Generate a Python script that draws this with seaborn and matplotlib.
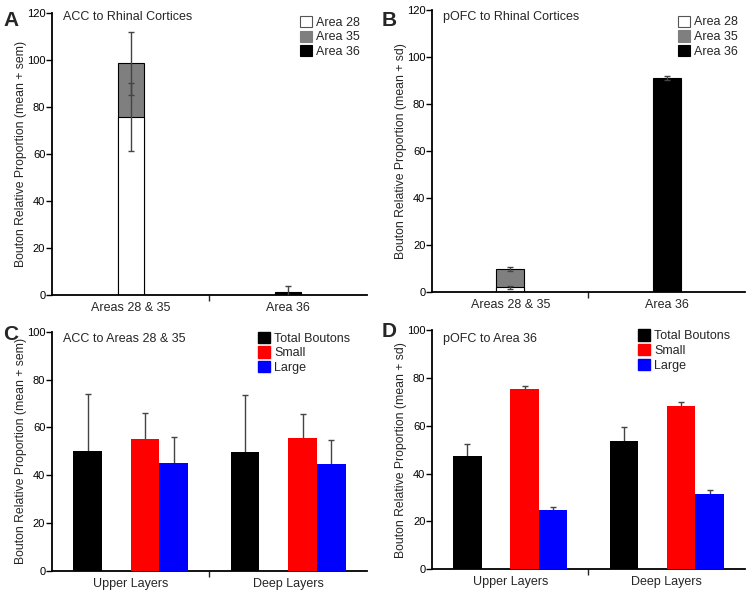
import numpy as np
import pandas as pd
import matplotlib
matplotlib.use("Agg")
import matplotlib.pyplot as plt
from matplotlib.patches import Patch
import seaborn as sns

sns.set_theme(style="ticks")
plt.rcParams['font.family'] = ['Liberation Sans', 'DejaVu Sans']

# ---------------- data ----------------
region_cats = ["Areas 28 & 35", "Area 36"]
acc_area28 = [75.8, np.nan]
acc_area35 = [22.8, np.nan]
acc_area36 = [np.nan, 1.4]
acc_area28_sem = [14.5, np.nan]
acc_area35_sem = [13.5, np.nan]
acc_area36_sem = [np.nan, 2.4]

pofc_area28 = [2.0, np.nan]
pofc_area35 = [7.9, np.nan]
pofc_area36 = [np.nan, 91.2]
pofc_area28_sd = [0.6, np.nan]
pofc_area35_sd = [0.8, np.nan]
pofc_area36_sd = [np.nan, 0.8]

area_labels = ["Area 28", "Area 35", "Area 36"]

layer_cats = ["Upper Layers", "Deep Layers"]
size_groups = ["Total Boutons", "Small", "Large"]
acc_total = [50.2, 49.9]
acc_small = [55.1, 55.5]
acc_large = [45.1, 44.6]
acc_total_sem = [23.8, 23.7]
acc_small_sem = [11.0, 10.1]
acc_large_sem = [10.8, 10.2]

pofc_total = [47.2, 53.8]
pofc_small = [75.2, 68.4]
pofc_large = [24.9, 31.5]
pofc_total_sd = [5.3, 5.5]
pofc_small_sd = [1.4, 1.5]
pofc_large_sd = [1.0, 1.5]

# ---------------- style ----------------
GRAY = "#7f7f7f"
ERR = "#444444"
FS = 9
TICK_FS = 8
YLAB_FS = 8.8

fig = plt.figure(figsize=(7.5, 5.92), dpi=100)
axA = fig.add_axes([0.0693, 0.5017, 0.420, 0.4764])
axB = fig.add_axes([0.5760, 0.5068, 0.4173, 0.4764])
axC = fig.add_axes([0.0693, 0.0355, 0.420, 0.4042])
axD = fig.add_axes([0.5760, 0.0383, 0.4173, 0.4042])


def all_patches(ax):
    out = []
    for cont in ax.containers:
        for p in cont:
            out.append((p.get_x() + p.get_width() / 2, p.get_height(), p.get_facecolor()))
    return out


def style_axis(ax, ymax, ylabel, cats, label_x):
    sns.despine(ax=ax)
    for s in ["left", "bottom"]:
        ax.spines[s].set_linewidth(1.3)
        ax.spines[s].set_color("black")
    ax.set_ylim(0, ymax)
    ax.set_xlim(-0.5, 1.5)
    ax.set_yticks(np.arange(0, ymax + 1, 20))
    ax.tick_params(axis="y", direction="out", length=4, width=1,
                   labelsize=TICK_FS, pad=0.8, colors="black")
    ax.set_xticks([0.5])
    ax.set_xticklabels([""])
    ax.set_xticks([0, 1], minor=True)
    ax.set_xticklabels(cats, minor=True, fontsize=FS)
    ax.tick_params(axis="x", which="major", direction="out", length=4, width=1)
    ax.tick_params(axis="x", which="minor", length=0, pad=5)
    ax.set_xlabel("")
    ax.set_ylabel(ylabel, fontsize=YLAB_FS)
    ax.yaxis.set_label_coords(label_x, 0.5)
    ax.yaxis.label.set_verticalalignment("center")
    ax.set_facecolor("white")


def stacked_panel(ax, a28, a35, a36, e28, e35, e36, width, title, title_y, ylabel,
                  leg_anchor, label_x):
    cum35 = [x + y if not (np.isnan(x) or np.isnan(y)) else np.nan for x, y in zip(a28, a35)]
    sns.barplot(x=region_cats, y=cum35, order=region_cats, color=GRAY, saturation=1,
                edgecolor="black", linewidth=0.8, width=width, errorbar=None, ax=ax)
    sns.barplot(x=region_cats, y=a28, order=region_cats, color="white", saturation=1,
                edgecolor="black", linewidth=0.8, width=width, errorbar=None, ax=ax)
    sns.barplot(x=region_cats, y=a36, order=region_cats, color="black", saturation=1,
                edgecolor="black", linewidth=0.8, width=width, errorbar=None, ax=ax)
    bars = all_patches(ax)
    ekw = dict(fmt="none", ecolor=ERR, elinewidth=1.0, capsize=2.3, capthick=1.0, zorder=5)
    for vals, errs, tops in [(a28, e28, a28), (a35, e35, cum35), (a36, e36, a36)]:
        for v, e, t in zip(vals, errs, tops):
            if np.isnan(v):
                continue
            x = [b[0] for b in bars if np.isclose(b[1], t)][0]
            ax.errorbar([x], [t], yerr=[e], **ekw)
    style_axis(ax, 120, ylabel, region_cats, label_x)
    ax.text(0.035, title_y, title, transform=ax.transAxes,
            fontsize=FS, va="center", ha="left")
    handles = [Patch(facecolor="white", edgecolor="#555555", linewidth=0.8),
               Patch(facecolor=GRAY, edgecolor=GRAY, linewidth=0.8),
               Patch(facecolor="black", edgecolor="black", linewidth=0.8)]
    ax.legend(handles, area_labels, loc="upper left", bbox_to_anchor=leg_anchor,
              frameon=False, fontsize=FS, handlelength=1.0, handleheight=1.0,
              handletextpad=0.3, labelspacing=0.15, borderpad=0, borderaxespad=0)


def grouped_panel(ax, tot, sm, lg, etot, esm, elg, title, ylabel, leg_anchor, title_y, label_x):
    df = pd.DataFrame({
        "layer": layer_cats * 3,
        "group": np.repeat(size_groups, len(layer_cats)),
        "value": tot + sm + lg,
        "err": etot + esm + elg,
    })
    hue_order = ["Total Boutons", " ", "Small", "Large"]
    palette = {"Total Boutons": "black", " ": "white", "Small": "#ff0000", "Large": "#0000ff"}
    sns.barplot(df, x="layer", y="value", hue="group", hue_order=hue_order, order=layer_cats,
                palette=palette, saturation=1, width=0.73, errorbar=None, linewidth=0,
                legend=False, ax=ax, zorder=3)
    bars = all_patches(ax)
    for _, row in df.iterrows():
        x = [b[0] for b in bars if np.isclose(b[1], row["value"])][0]
        ax.errorbar([x], [row["value"]], yerr=[row["err"]],
                    fmt="none", ecolor=ERR, elinewidth=1.0, capsize=2.3, capthick=1.0, zorder=2)
    style_axis(ax, 100, ylabel, layer_cats, label_x)
    ax.text(0.035, title_y, title, transform=ax.transAxes, fontsize=FS, va="center", ha="left")
    handles = [Patch(facecolor=palette[g], edgecolor=palette[g]) for g in size_groups]
    ax.legend(handles, size_groups, loc="upper left", bbox_to_anchor=leg_anchor,
              frameon=False, fontsize=FS, handlelength=1.0, handleheight=1.0,
              handletextpad=0.3, labelspacing=0.15, borderpad=0, borderaxespad=0)


stacked_panel(axA, acc_area28, acc_area35, acc_area36, acc_area28_sem, acc_area35_sem,
              acc_area36_sem, 0.165, "ACC to Rhinal Cortices", 0.985,
              "Bouton Relative Proportion (mean + sem)", (0.787, 0.99), -0.097)
stacked_panel(axB, pofc_area28, pofc_area35, pofc_area36, pofc_area28_sd, pofc_area35_sd,
              pofc_area36_sd, 0.18, "pOFC to Rhinal Cortices", 0.975,
              "Bouton Relative Proportion (mean + sd)", (0.786, 0.98), -0.098)
grouped_panel(axC, acc_total, acc_small, acc_large, acc_total_sem, acc_small_sem, acc_large_sem,
              "ACC to Areas 28 & 35", "Bouton Relative Proportion (mean + sem)",
              (0.654, 1.0), 0.971, -0.097)
grouped_panel(axD, pofc_total, pofc_small, pofc_large, pofc_total_sd, pofc_small_sd, pofc_large_sd,
              "pOFC to Area 36", "Bouton Relative Proportion (mean + sd)",
              (0.658, 1.003), 0.964, -0.098)

for letter, x, y in [("A", 0.004, 0.966), ("B", 0.509, 0.966), ("C", 0.004, 0.435), ("D", 0.509, 0.44)]:
    fig.text(x, y, letter, fontsize=15, fontweight="bold", ha="left", va="center")

fig.savefig("out.png", dpi=100, facecolor="white")
